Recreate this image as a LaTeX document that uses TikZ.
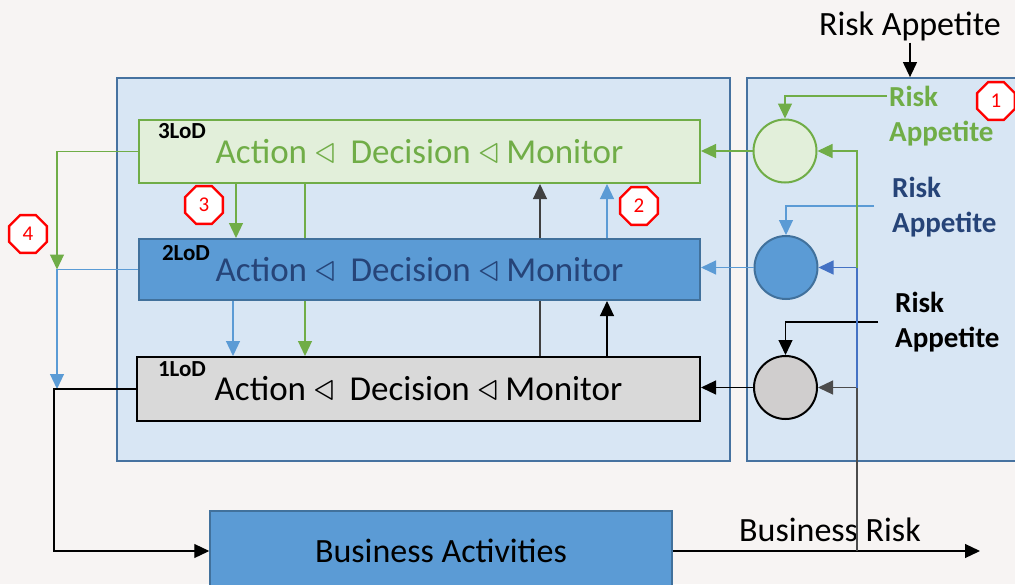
\documentclass[tikz,border=0pt]{standalone}
\usepackage{fix-cm}
\usepackage{fontspec}
\setmainfont{Carlito}
\usetikzlibrary{arrows.meta,shapes.geometric}

\definecolor{bgcol}{RGB}{247,244,243}
\definecolor{panelfill}{RGB}{216,230,244}
\definecolor{panelline}{RGB}{70,114,160}
\definecolor{lodgreen}{RGB}{112,173,71}
\definecolor{lodgreenfill}{RGB}{226,239,218}
\definecolor{lodblue}{RGB}{91,155,213}
\definecolor{lodblueline}{RGB}{65,113,156}
\definecolor{lodbluetext}{RGB}{38,68,120}
\definecolor{darkblue}{RGB}{68,114,196}
\definecolor{lodgrey}{RGB}{217,217,217}
\definecolor{ringgrey}{RGB}{208,206,206}
\definecolor{stopred}{RGB}{255,0,0}

\newcommand{\lodtext}{Action~\scalebox{1.15}{$\triangleleft$}~~Decision~\scalebox{1.15}{$\triangleleft$}~Monitor}

\tikzset{
  panel/.style={rectangle, draw=panelline, fill=panelfill, line width=1.8pt, inner sep=0pt},
  lodbox/.style={rectangle, line width=2pt, inner sep=0pt, font=\fontsize{35}{40}\selectfont},
  lodtag/.style={inner sep=0pt, font=\fontsize{23}{26}\selectfont\bfseries},
  ring/.style={circle, line width=2pt, minimum size=63pt, inner sep=0pt},
  appetite/.style={align=left, anchor=north west, inner sep=0pt, font=\fontsize{29}{35}\selectfont\bfseries},
  bigtext/.style={inner sep=2pt, font=\fontsize{34}{40}\selectfont},
  flow/.style={line width=1.2pt, -{Triangle[width=14pt,length=15pt]}},
  stopsign/.style={regular polygon, regular polygon sides=8, draw=stopred, fill=white,
    line width=2.4pt, minimum size=41pt, inner sep=0pt, text=stopred, font=\fontsize{21}{21}\selectfont},
}

\begin{document}
\begin{tikzpicture}[x=1pt,y=-1pt]
\useasboundingbox (0,0) rectangle (1015,584);
\clip (0,0) rectangle (1015,584);
\fill[bgcol] (0,0) rectangle (1015,584);

% the two panels
\node[panel, minimum width=613pt, minimum height=383pt] (lodpanel) at (423.5,269.5) {};
\node[panel, minimum width=283pt, minimum height=383pt] (appetitepanel) at (888.5,269.5) {};

% columns and free ends
\coordinate (ca) at (236,0);
\coordinate (cb) at (305,0);
\coordinate (cc) at (233,0);
\coordinate (cd) at (540,0);
\coordinate (ce) at (607,0);
\coordinate (cl) at (57,0);
\coordinate (cl2) at (54,551);
\coordinate (fb) at (857,551);
\coordinate (brend) at (980,551);
\coordinate (a3) at (887,96);
\coordinate (a2) at (874,206);
\coordinate (a1) at (878,322);

% lines of defence
\node[lodbox, draw=lodgreen, fill=lodgreenfill, text=lodgreen,
  minimum width=561pt, minimum height=63pt] (lod3) at (419.5,151.5) {\lodtext};
\node[lodbox, draw=black, fill=lodgrey, text=black,
  minimum width=563pt, minimum height=64pt] (lod1) at (418.5,389) {\lodtext};

% these run behind 2LoD
\draw[flow, lodgreen] (lod3.south -| cb) -- (lod1.north -| cb);
\draw[flow, black!75] (lod1.north -| cd) -- (lod3.south -| cd);

\node[lodbox, draw=lodblueline, fill=lodblue, text=lodbluetext,
  minimum width=561pt, minimum height=61pt] (lod2) at (419.5,269.5) {\lodtext};

\node[lodtag] (tag3) at ([xshift=44pt,yshift=-12pt]lod3.north west) {3LoD};
\node[lodtag] (tag2) at ([xshift=48pt,yshift=-15pt]lod2.north west) {2LoD};
\node[lodtag] (tag1) at ([xshift=46pt,yshift=-13pt]lod1.north west) {1LoD};

% between the boxes
\draw[flow, lodgreen] (lod3.south -| ca) -- (lod2.north -| ca);
\draw[flow, lodblue] (lod2.south -| cc) -- (lod1.north -| cc);
\draw[flow] (lod1.north -| ce) -- (lod2.south -| ce);
\draw[flow, lodblue] (lod2.north -| ce) -- (lod3.south -| ce);

% left side
\draw[flow, lodgreen] (lod3.west) -| (cl |- lod2.west);
\draw[flow, lodblue] (lod2.west) -| (cl |- lod1.west);

% rings
\node[ring, draw=lodgreen, fill=lodgreenfill] (ring3) at (785,151) {};
\node[ring, draw=lodblueline, fill=lodblue] (ring2) at (786,267.5) {};
\node[ring, draw=black, fill=ringgrey] (ring1) at (785.5,387.5) {};

\draw[flow, lodgreen] (ring3.west) -- (ring3.west -| lod3.east);
\draw[flow, lodblue] (ring2.west) -- (ring2.west -| lod2.east);
\draw[flow] (ring1.west) -- (ring1.west -| lod1.east);

% risk appetite
\node[bigtext] (ratop) at (910,26) {Risk Appetite};
\draw[flow] (ratop.south) -- (ratop.south |- appetitepanel.north);

\node[appetite, text=lodgreen] (app3) at (889,86) {Risk\\Appetite};
\node[appetite, text=lodbluetext] (app2) at (892,177) {Risk\\Appetite};
\node[appetite, text=black] (app1) at (895,292) {Risk\\Appetite};
\draw[flow, lodgreen] (a3) -| (ring3.north);
\draw[flow, lodblue] (a2) -| (ring2.north);
\draw[flow] (a1) -| (ring1.north);

% business
\node[rectangle, draw=lodblueline, fill=lodblue, line width=1.5pt,
  minimum width=462pt, minimum height=80pt, bigtext] (biz) at (441,551) {Business Activities};
\draw[flow] (lod1.west) -| (cl2) |- (biz.west);
\draw[flow] (biz.east) -- (brend);
\node[bigtext] (brisk) at (830,530) {Business Risk};

% feedback of risk
\draw[flow, black!70] (fb) |- (ring1.east);
\draw[flow, darkblue] (fb |- ring1.east) |- (ring2.east);
\draw[flow, lodgreen] (fb |- ring2.east) |- (ring3.east);

% markers
\node[stopsign] (n1) at (996,101) {1};
\node[stopsign] (n2) at (639,206) {2};
\node[stopsign] (n3) at (204,205) {3};
\node[stopsign] (n4) at (28,234) {4};
\end{tikzpicture}
\end{document}
